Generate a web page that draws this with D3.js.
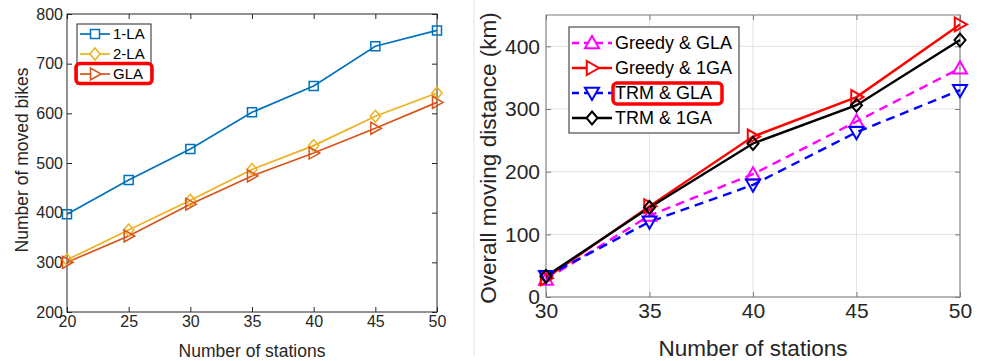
<!DOCTYPE html>
<html>
<head>
<meta charset="utf-8">
<script src="https://cdn.jsdelivr.net/npm/d3@7"></script>
<style>
  body { margin: 0; background: #fff; }
  svg { display: block; font-family: "Liberation Sans", Arial, sans-serif; }
</style>
</head>
<body>
<svg width="988" height="361"></svg>
<script>
// left panel data
const stationsL = [20, 25, 30, 35, 40, 45, 50];
const la1 = [397, 466, 528, 602, 655, 735, 767];
const la2 = [305, 365, 425, 487, 535, 594, 641];
const gla = [300, 353, 417, 474, 520, 570, 622];
const yTicksL = [200, 300, 400, 500, 600, 700, 800];

// right panel data
const stationsR = [30, 35, 40, 45, 50];
const greedyGla = [28, 130, 196, 280, 365];
const greedy1ga = [30, 145, 256, 319, 435];
const trmGla = [33, 120, 179, 263, 330];
const trm1ga = [33, 143, 245, 306, 410];
const yTicksR = [0, 100, 200, 300, 400];

const svg = d3.select('svg');
const axisColor = '#262626';

// marker shapes
function marker(shape, s) {
  if (shape === 'square') return `M${-s},${-s}h${2*s}v${2*s}h${-2*s}Z`;
  if (shape === 'diamond') return `M0,${-s}L${s*0.85},0L0,${s}L${-s*0.85},0Z`;
  // triangle pointing up, rotated later
  return `M0,${-s}L${s},${s*0.75}L${-s},${s*0.75}Z`;
}
const rot = {up: 0, right: 90, down: 180};

function drawPanel(cfg) {
  const g = svg.append('g');
  const x = d3.scaleLinear().domain(cfg.xDomain).range([cfg.left, cfg.right]);
  const y = d3.scaleLinear().domain(cfg.yDomain).range([cfg.bottom, cfg.top]);

  if (cfg.grid) {
    g.selectAll('.gx').data(cfg.xTicks).enter().append('line')
      .attr('x1', d => x(d)).attr('x2', d => x(d))
      .attr('y1', cfg.top).attr('y2', cfg.bottom)
      .attr('stroke', '#e3e3e3').attr('stroke-width', 1);
    g.selectAll('.gy').data(cfg.yTicks).enter().append('line')
      .attr('y1', d => y(d)).attr('y2', d => y(d))
      .attr('x1', cfg.left).attr('x2', cfg.right)
      .attr('stroke', '#e3e3e3').attr('stroke-width', 1);
  }

  const ax = (a, t) => a.tickValues(t).tickSize(-5).tickSizeOuter(0).tickPadding(cfg.pad);
  const xb = g.append('g').attr('transform', `translate(0,${cfg.bottom})`)
    .call(ax(d3.axisBottom(x), cfg.xTicks));
  const xt = g.append('g').attr('transform', `translate(0,${cfg.top})`)
    .call(ax(d3.axisTop(x), cfg.xTicks));
  const yl = g.append('g').attr('transform', `translate(${cfg.left},0)`)
    .call(ax(d3.axisLeft(y), cfg.yTicks));
  const yr = g.append('g').attr('transform', `translate(${cfg.right},0)`)
    .call(ax(d3.axisRight(y), cfg.yTicks));
  [xb, xt, yl, yr].forEach(a => {
    a.select('.domain').remove();
    a.selectAll('line').attr('stroke', cfg.boxColor);
    a.selectAll('text').attr('fill', axisColor).style('font-size', cfg.tickFont + 'px')
      .style('font-family', '"Liberation Sans", Arial, sans-serif');
  });
  xt.selectAll('text').remove();
  yr.selectAll('text').remove();

  g.append('rect').attr('x', cfg.left).attr('y', cfg.top)
    .attr('width', cfg.right - cfg.left).attr('height', cfg.bottom - cfg.top)
    .attr('fill', 'none').attr('stroke', cfg.boxColor).attr('stroke-width', 1);

  const line = d3.line().x((d, i) => x(cfg.xs[i])).y(d => y(d));
  cfg.series.forEach(s => {
    g.append('path').datum(s.values).attr('d', line)
      .attr('fill', 'none').attr('stroke', s.color).attr('stroke-width', cfg.lw)
      .attr('stroke-dasharray', s.dash || null);
  });
  cfg.series.forEach(s => {
    g.selectAll(null).data(s.values).enter().append('path')
      .attr('d', marker(s.shape, s.size))
      .attr('transform', (d, i) => `translate(${x(cfg.xs[i])},${y(d)}) rotate(${rot[s.dir] || 0})`)
      .attr('fill', 'none').attr('stroke', s.color).attr('stroke-width', cfg.mw);
  });

  // axis labels
  g.append('text').attr('x', (cfg.left + cfg.right) / 2).attr('y', cfg.xLabelY)
    .attr('text-anchor', 'middle').attr('fill', axisColor)
    .style('font-size', cfg.labelFont + 'px').text('Number of stations');
  g.append('text')
    .attr('transform', `translate(${cfg.yLabelX},${cfg.yLabelMid}) rotate(-90)`)
    .attr('text-anchor', 'middle').attr('fill', axisColor)
    .style('font-size', cfg.labelFont + 'px').text(cfg.yLabel);

  // legend
  const L = cfg.legend;
  g.append('rect').attr('x', L.x0).attr('y', L.y0)
    .attr('width', L.x1 - L.x0).attr('height', L.y1 - L.y0)
    .attr('fill', '#fff').attr('stroke', axisColor).attr('stroke-width', 1);
  cfg.series.forEach((s, i) => {
    const ry = L.rows[i];
    g.append('line').attr('x1', L.lx0).attr('x2', L.lx1).attr('y1', ry).attr('y2', ry)
      .attr('stroke', s.color).attr('stroke-width', cfg.lw)
      .attr('stroke-dasharray', s.dash ? L.dash : null);
    g.append('path').attr('d', marker(s.shape, s.size))
      .attr('transform', `translate(${L.mx},${ry}) rotate(${rot[s.dir] || 0})`)
      .attr('fill', '#fff').attr('stroke', s.color).attr('stroke-width', cfg.mw);
    g.append('text').attr('x', L.tx).attr('y', ry).attr('dy', '0.36em')
      .attr('fill', '#000').style('font-size', L.font + 'px').text(s.name);
  });
  const H = cfg.highlight;
  g.append('rect').attr('x', H.x).attr('y', H.y).attr('width', H.w).attr('height', H.h)
    .attr('rx', 4).attr('fill', 'none').attr('stroke', '#f00').attr('stroke-width', 3.5);
}

drawPanel({
  left: 67, right: 437, top: 14, bottom: 312,
  xDomain: [20, 50], yDomain: [200, 800],
  xTicks: stationsL, yTicks: yTicksL, xs: stationsL,
  grid: false, boxColor: axisColor, pad: 4, tickFont: 16, labelFont: 17.5,
  lw: 1.7, mw: 1.5,
  xLabelY: 357, yLabelX: 28, yLabelMid: 160, yLabel: 'Number of moved bikes',
  series: [
    {name: '1-LA', values: la1, color: '#0072BD', shape: 'square', size: 4.5},
    {name: '2-LA', values: la2, color: '#EDB120', shape: 'diamond', size: 6},
    {name: 'GLA', values: gla, color: '#D95319', shape: 'tri', dir: 'right', size: 6}
  ],
  legend: {x0: 77, x1: 151, y0: 24, y1: 84, rows: [34, 54, 74],
           lx0: 80, lx1: 110, mx: 95, tx: 113, font: 15, dash: null},
  highlight: {x: 76, y: 63.5, w: 76, h: 20}
});

drawPanel({
  left: 546, right: 960, top: 15, bottom: 297,
  xDomain: [30, 50], yDomain: [0, 450],
  xTicks: stationsR, yTicks: yTicksR, xs: stationsR,
  grid: true, boxColor: '#7a7a7a', pad: 6, tickFont: 21, labelFont: 22.5,
  lw: 2.4, mw: 2,
  xLabelY: 356, yLabelX: 496, yLabelMid: 158, yLabel: 'Overall moving distance (km)',
  series: [
    {name: 'Greedy & GLA', values: greedyGla, color: '#ff00ff', shape: 'tri', dir: 'up', size: 7, dash: '9,6'},
    {name: 'Greedy & 1GA', values: greedy1ga, color: '#ff0000', shape: 'tri', dir: 'right', size: 7},
    {name: 'TRM & GLA', values: trmGla, color: '#0000ff', shape: 'tri', dir: 'down', size: 7, dash: '9,6'},
    {name: 'TRM & 1GA', values: trm1ga, color: '#000000', shape: 'diamond', size: 6.5}
  ],
  legend: {x0: 569, x1: 739, y0: 27, y1: 133, rows: [43, 68, 93, 118],
           lx0: 572, lx1: 612, mx: 592, tx: 615, font: 18, dash: '7,5'},
  highlight: {x: 613, y: 83, w: 109, h: 21}
});

// faint separator between panels
svg.append('line').attr('x1', 474).attr('x2', 474).attr('y1', 0).attr('y2', 355)
  .attr('stroke', '#e0e0e0').attr('stroke-width', 1);
</script>
</body>
</html>
